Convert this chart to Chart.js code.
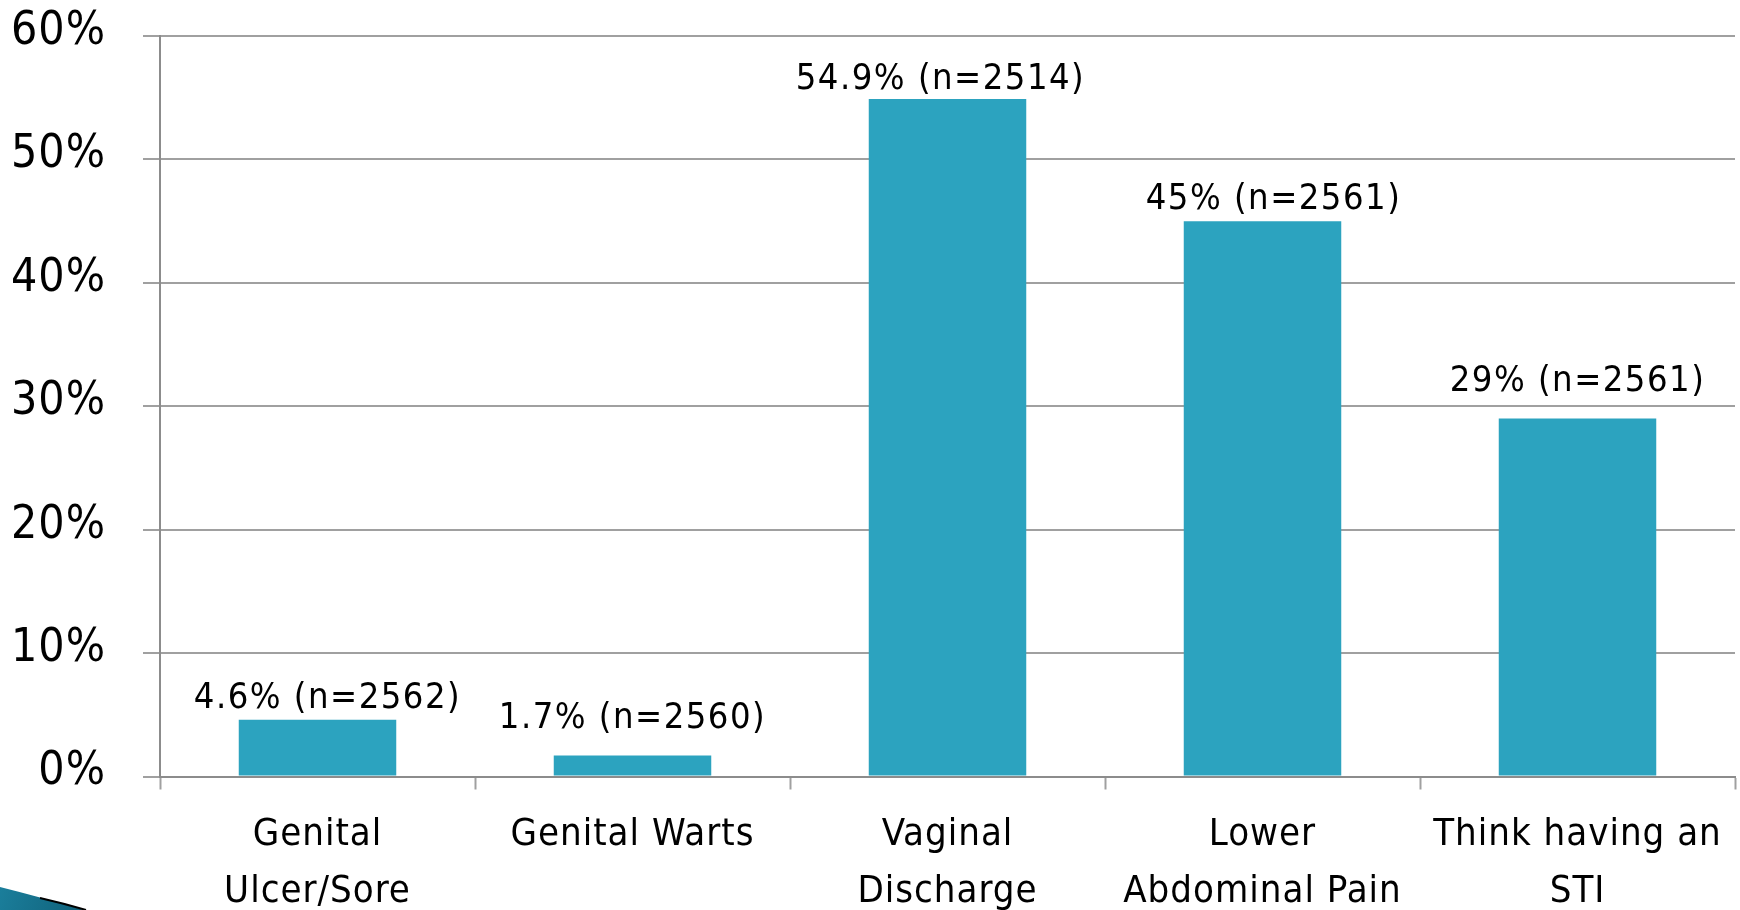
<!DOCTYPE html>
<html>
<head>
<meta charset="utf-8">
<script src="https://cdn.jsdelivr.net/npm/chart.js@4/dist/chart.umd.min.js"></script>
<style>
  html, body { margin: 0; padding: 0; background: #ffffff; }
  #wrap { width: 1740px; height: 910px; position: relative; }
</style>
</head>
<body>
<div id="wrap"><canvas id="c" width="1740" height="910"></canvas></div>
<script>
const categories = [
  ["Genital", "Ulcer/Sore"],
  ["Genital Warts"],
  ["Vaginal", "Discharge"],
  ["Lower", "Abdominal Pain"],
  ["Think having an", "STI"]
];
const percentValues = [4.6, 1.7, 54.9, 45, 29];
const sampleSizes = [2562, 2560, 2514, 2561, 2561];
const yTickValues = [0, 10, 20, 30, 40, 50, 60];

const FONT = '"DejaVu Sans Condensed", "DejaVu Sans", sans-serif';

const spacingPlugin = {
  id: 'spacing',
  beforeLayout(chart) { chart.ctx.letterSpacing = '1px'; },
  beforeDraw(chart) { chart.ctx.letterSpacing = '1px'; }
};

const barLabelPlugin = {
  id: 'barLabels',
  afterDatasetsDraw(chart, args, opts) {
    const ctx = chart.ctx;
    const meta = chart.getDatasetMeta(0);
    ctx.save();
    ctx.letterSpacing = '1.5px';
    ctx.font = opts.size + 'px ' + FONT;
    ctx.fillStyle = '#000000';
    ctx.textAlign = 'center';
    ctx.textBaseline = 'middle';
    meta.data.forEach((bar, i) => {
      const txt = percentValues[i] + '% (n=' + sampleSizes[i] + ')';
      ctx.fillText(txt, bar.x + opts.dx[i], bar.y - opts.gap[i]);
    });
    ctx.restore();
  }
};

const swooshPlugin = {
  id: 'swoosh',
  afterDraw(chart) {
    const ctx = chart.ctx;
    ctx.save();
    const g = ctx.createLinearGradient(0, 880, 90, 910);
    g.addColorStop(0, '#1b7f9c');
    g.addColorStop(1, '#0f5f78');
    ctx.beginPath();
    ctx.moveTo(0, 887);
    ctx.quadraticCurveTo(40, 897, 84, 910);
    ctx.lineTo(0, 910);
    ctx.closePath();
    ctx.fillStyle = g;
    ctx.fill();
    ctx.beginPath();
    ctx.moveTo(40, 898);
    ctx.quadraticCurveTo(62, 903, 86, 910);
    ctx.strokeStyle = '#000000';
    ctx.lineWidth = 2;
    ctx.stroke();
    ctx.restore();
  }
};

new Chart(document.getElementById('c'), {
  type: 'bar',
  data: {
    labels: categories,
    datasets: [{
      data: percentValues,
      backgroundColor: '#2ca3bf',
      borderWidth: 0,
      categoryPercentage: 1.0,
      barPercentage: 0.5
    }]
  },
  options: {
    responsive: false,
    animation: false,
    devicePixelRatio: 1,
    layout: { padding: { top: 36, right: 5, bottom: 0, left: 0 } },
    plugins: {
      legend: { display: false },
      tooltip: { enabled: false },
      barLabels: {
        size: 36,
        dx: [10, 0, -7, 11, 0],
        gap: [21, 37, 19, 21, 37]
      }
    },
    scales: {
      x: {
        grid: {
          display: true,
          drawOnChartArea: false,
          drawTicks: true,
          tickLength: 13,
          tickWidth: 2,
          tickColor: '#a0a0a0',
          offset: true
        },
        border: { display: true, color: '#8c8c8c', width: 2 },
        ticks: {
          color: '#000000',
          font: { family: FONT, size: 38, lineHeight: 1.5 },
          padding: 17,
          maxRotation: 0,
          autoSkip: false
        },
        afterFit(scale) {
          scale.height = 133.5;
          scale.paddingLeft = 0;
          scale.paddingRight = 0;
        }
      },
      y: {
        min: 0,
        max: 60,
        afterBuildTicks(scale) { scale.ticks = yTickValues.map(v => ({ value: v })); },
        grid: {
          color: '#a0a0a0',
          lineWidth: 2,
          drawTicks: true,
          tickLength: 17,
          tickColor: '#a0a0a0'
        },
        border: { display: true, color: '#8c8c8c', width: 2 },
        ticks: {
          color: '#000000',
          font: { family: FONT, size: 46 },
          padding: 37,
          labelOffset: -4,
          callback: v => v + '%'
        },
        afterFit(scale) {
          scale.width = 160;
          scale.paddingTop = 0;
          scale.paddingBottom = 0;
        }
      }
    }
  },
  plugins: [spacingPlugin, barLabelPlugin, swooshPlugin]
});
</script>
</body>
</html>
